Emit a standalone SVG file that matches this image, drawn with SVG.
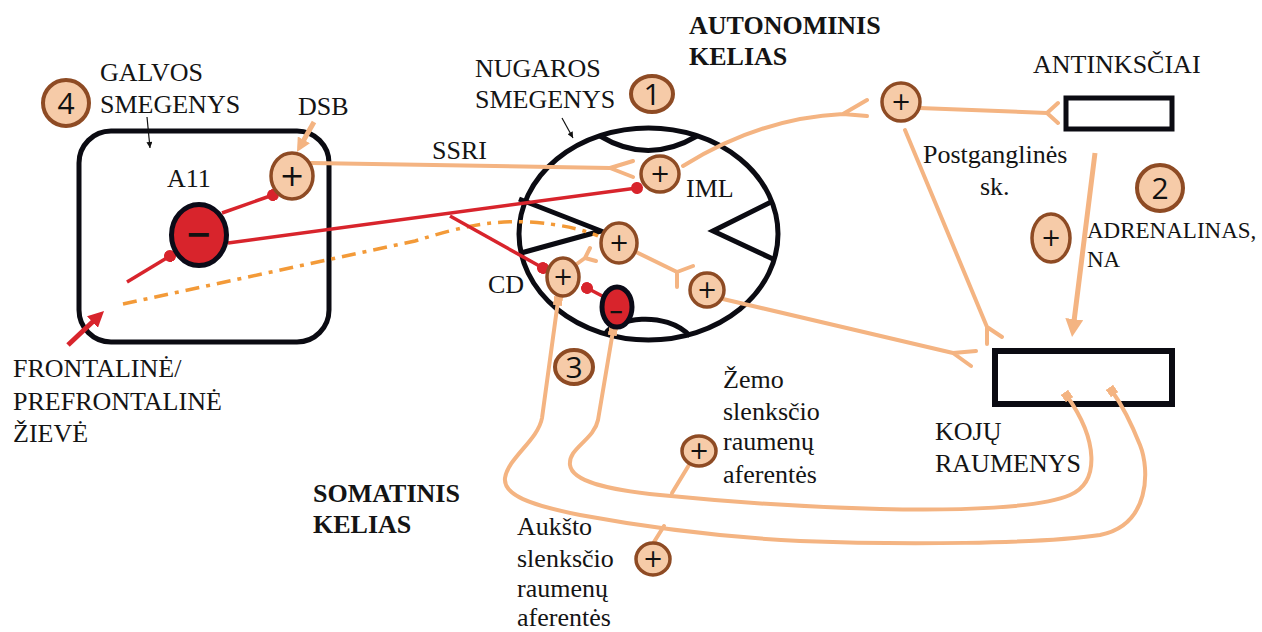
<svg xmlns="http://www.w3.org/2000/svg" width="1262" height="632" viewBox="0 0 1262 632">
<style>
.t{font-family:"Liberation Serif","Times New Roman",serif;font-size:26px;fill:#141414}
.ts{font-size:23px}
.tb{font-weight:bold}
.num{font-family:"Open Sans","Liberation Sans",sans-serif;font-size:30px;fill:#111;text-anchor:middle}
.pc{fill:#F6CBA8;stroke:#8E4B24;stroke-width:3.5}
.nc{fill:#F6CBA8;stroke:#8E4B24;stroke-width:4}
.pl{font-family:"DejaVu Sans",sans-serif;fill:#111;text-anchor:middle}
.mc{fill:#D8242C;stroke:#0B0B18;stroke-width:5}
.mn{font-family:"DejaVu Sans",sans-serif;font-weight:bold;fill:#111;text-anchor:middle}
.pe{fill:none;stroke:#F4B482;stroke-width:4;stroke-linecap:round;stroke-linejoin:round}
.rd{fill:none;stroke:#D8242C;stroke-width:3.5}
.ol{fill:none;stroke:#0B0B12;stroke-width:5}
.ptr{fill:none;stroke:#111;stroke-width:1.2}
</style>
<defs>
<marker id="aPeach" viewBox="0 0 10 10" refX="3" refY="5" markerUnits="userSpaceOnUse" markerWidth="14" markerHeight="14" orient="auto"><path d="M0,0 L10,5 L0,10 Z" fill="#F4B482"/></marker>
<marker id="aPeachL" viewBox="0 0 10 10" refX="3" refY="5" markerUnits="userSpaceOnUse" markerWidth="18" markerHeight="18" orient="auto"><path d="M0,0 L10,5 L0,10 Z" fill="#F4B482"/></marker>
<marker id="aRed" viewBox="0 0 10 10" refX="3" refY="5" markerUnits="userSpaceOnUse" markerWidth="16" markerHeight="16" orient="auto"><path d="M0,0 L10,5 L0,10 Z" fill="#D8242C"/></marker>
<marker id="aBlk" viewBox="0 0 10 10" refX="10" refY="5" markerUnits="userSpaceOnUse" markerWidth="7" markerHeight="6" orient="auto"><path d="M0,0 L10,5 L0,10 Z" fill="#111"/></marker>
<marker id="sq" viewBox="0 0 10 10" refX="5" refY="5" markerUnits="userSpaceOnUse" markerWidth="9" markerHeight="9" orient="auto"><rect x="0" y="0" width="10" height="10" fill="#F4B482"/></marker>
<marker id="dot" viewBox="0 0 10 10" refX="5" refY="5" markerUnits="userSpaceOnUse" markerWidth="12" markerHeight="12" orient="auto"><circle cx="5" cy="5" r="5" fill="#D8242C"/></marker>
</defs>
<rect width="1262" height="632" fill="#fff"/>

<g id="brain">
<rect class="ol" x="79" y="131" width="250" height="211" rx="32"/>
</g>
<g id="spinal-cord">
<ellipse class="ol" cx="648.5" cy="234" rx="129.5" ry="106"/>
<path class="ol" d="M600,136 Q648,165 697,136"/>
<path class="ol" d="M605,334 C615,318 665,310 690,336"/>
<path class="ol" d="M519,199 L601,231 L521,253"/>
<path class="ol" d="M773,201 L713,231 L773,259"/>
</g>
<g id="adrenal">
<rect class="ol" x="1066" y="98" width="106" height="31"/>
</g>
<g id="leg-muscles">
<rect x="995" y="351" width="177" height="53" fill="none" stroke="#0B0B12" stroke-width="6"/>
</g>

<g id="connectors">
<path class="ptr" d="M147,117 L150,148" marker-end="url(#aBlk)"/>
<path class="ptr" d="M562,118 L573,138" marker-end="url(#aBlk)"/>
<path d="M314,122 L301.8,143.5" fill="none" stroke="#F4B482" stroke-width="5" marker-end="url(#aPeach)"/>
<path d="M1095,153 L1073.6,324.5" fill="none" stroke="#F4B482" stroke-width="5" marker-end="url(#aPeachL)"/>
<path d="M68,345 L95.9,318.7" fill="none" stroke="#D8242C" stroke-width="5" marker-end="url(#aRed)"/>
<path d="M123,304 L415,241 C460,227 490,220 530,222 C560,224 585,230 598,236" fill="none" stroke="#F39A38" stroke-width="3.5" stroke-dasharray="14 7 4 7"/>
<path class="rd" d="M222,213 L273,195" marker-end="url(#dot)"/>
<path class="rd" d="M127,282 L170,256" marker-end="url(#dot)"/>
<path class="rd" d="M228,243 L637,188" marker-end="url(#dot)"/>
<path class="rd" d="M450,216 L543,268" marker-end="url(#dot)"/>
<path class="rd" d="M606,298 L587,288" marker-end="url(#dot)"/>
<path class="pe" d="M311,163 L610,168 M633,161 L610,168 L633,177"/>
<path class="pe" d="M683,166 Q760,118 843,114 M867,100 L843,114 L867,116"/>
<path class="pe" d="M919,108 L1047,113 M1058,103 L1047,113 L1058,123"/>
<path class="pe" d="M905,130 L987,327 M987,344 L987,327 L1002,337"/>
<path class="pe" d="M634,251 L677,272 M693,266 L677,272 L677,287"/>
<path class="pe" d="M723,299 L953,353 M976,351 L953,353 L971,366"/>
<path class="pe" d="M574,266 L585,258 M590,248 L585,258 L596,261"/>
<path class="pe" d="M558,301 L542,418 C538,440 508,458 505,478 C503,495 530,505 580,515 C650,528 720,537 800,541 C900,545 1040,544 1100,535 C1150,525 1150,470 1140,445 C1132,425 1122,405 1112,391" marker-start="url(#sq)" marker-end="url(#sq)"/>
<path class="pe" d="M613,331 L598,420 C594,440 568,448 570,465 C572,482 610,490 660,495 C730,502 800,507 880,509 C960,511 1040,508 1070,495 C1100,482 1098,440 1067,396" marker-start="url(#sq)" marker-end="url(#sq)"/>
<path class="pe" d="M689,465 L672,493"/>
<path class="pe" d="M654,542 L664,526"/>
</g>

<g id="n-brain-plus"><ellipse class="pc" cx="292" cy="176" rx="21" ry="23"/><text class="pl" x="292" y="186" font-size="30">+</text></g>
<g id="n-a11-minus"><ellipse class="mc" cx="199" cy="235" rx="27.5" ry="30.5"/><text class="mn" x="199" y="245" font-size="32">−</text></g>
<g id="n-iml"><ellipse class="pc" cx="660" cy="174" rx="19" ry="18"/><text class="pl" x="660" y="181.7" font-size="24">+</text></g>
<g id="n-mid"><ellipse class="pc" cx="619" cy="243" rx="18" ry="20"/><text class="pl" x="619" y="250.7" font-size="24">+</text></g>
<g id="n-cd"><ellipse class="pc" cx="563" cy="277" rx="16" ry="19"/><text class="pl" x="563" y="284.7" font-size="24">+</text></g>
<g id="n-right"><ellipse class="pc" cx="707" cy="290" rx="17" ry="17"/><text class="pl" x="707" y="297.7" font-size="24">+</text></g>
<g id="n-cd-minus"><ellipse class="mc" cx="617" cy="307" rx="15" ry="20"/><text class="mn" x="616" y="317.8" font-size="18">−</text></g>
<g id="n-ganglion"><ellipse class="pc" cx="901" cy="102" rx="19" ry="19"/><text class="pl" x="901" y="109.7" font-size="24">+</text></g>
<g id="n-adr-plus"><ellipse class="pc" cx="1051" cy="238" rx="19" ry="24"/><text class="pl" x="1051" y="245.7" font-size="24">+</text></g>
<g id="n-low-aff"><ellipse class="pc" cx="699" cy="451" rx="17" ry="15"/><text class="pl" x="699" y="458.7" font-size="24">+</text></g>
<g id="n-high-aff"><ellipse class="pc" cx="653" cy="559" rx="17" ry="16"/><text class="pl" x="653" y="566.7" font-size="24">+</text></g>

<g id="num-4"><ellipse class="nc" cx="66" cy="103" rx="23" ry="23"/><text class="num" x="66" y="113.7">4</text></g>
<g id="num-1"><ellipse class="nc" cx="652" cy="94" rx="21" ry="18"/><text class="num" x="652" y="104.7">1</text></g>
<g id="num-2"><ellipse class="nc" cx="1160" cy="188" rx="23" ry="23"/><text class="num" x="1160" y="198.7">2</text></g>
<g id="num-3"><ellipse class="nc" cx="574" cy="367" rx="19" ry="17"/><text class="num" x="574" y="377.7">3</text></g>

<g id="labels">
<text class="t" x="100" y="81">GALVOS</text>
<text class="t" x="100" y="113">SMEGENYS</text>
<text class="t" x="298" y="115">DSB</text>
<text class="t" x="167" y="187">A11</text>
<text class="t" x="475" y="77">NUGAROS</text>
<text class="t" x="475" y="108">SMEGENYS</text>
<text class="t tb" x="689" y="34">AUTONOMINIS</text>
<text class="t tb" x="689" y="65">KELIAS</text>
<text class="t" x="432" y="159">SSRI</text>
<text class="t" x="686" y="197">IML</text>
<text class="t" x="488" y="293">CD</text>
<text class="t" x="1033" y="73">ANTINKSČIAI</text>
<text class="t" x="923" y="163">Postganglinės</text>
<text class="t" x="980" y="195">sk.</text>
<text class="t ts" x="1087" y="238">ADRENALINAS,</text>
<text class="t ts" x="1087" y="267">NA</text>
<text class="t" x="935" y="440">KOJŲ</text>
<text class="t" x="935" y="472">RAUMENYS</text>
<text class="t" x="723" y="388">Žemo</text>
<text class="t" x="723" y="420">slenksčio</text>
<text class="t" x="723" y="450">raumenų</text>
<text class="t" x="723" y="483">aferentės</text>
<text class="t tb" x="313" y="502">SOMATINIS</text>
<text class="t tb" x="313" y="533">KELIAS</text>
<text class="t" x="517" y="535">Aukšto</text>
<text class="t" x="517" y="567">slenksčio</text>
<text class="t" x="517" y="597">raumenų</text>
<text class="t" x="517" y="626">aferentės</text>
<text class="t" x="13" y="377">FRONTALINĖ/</text>
<text class="t" x="13" y="410">PREFRONTALINĖ</text>
<text class="t" x="13" y="442">ŽIEVĖ</text>
</g>
</svg>
